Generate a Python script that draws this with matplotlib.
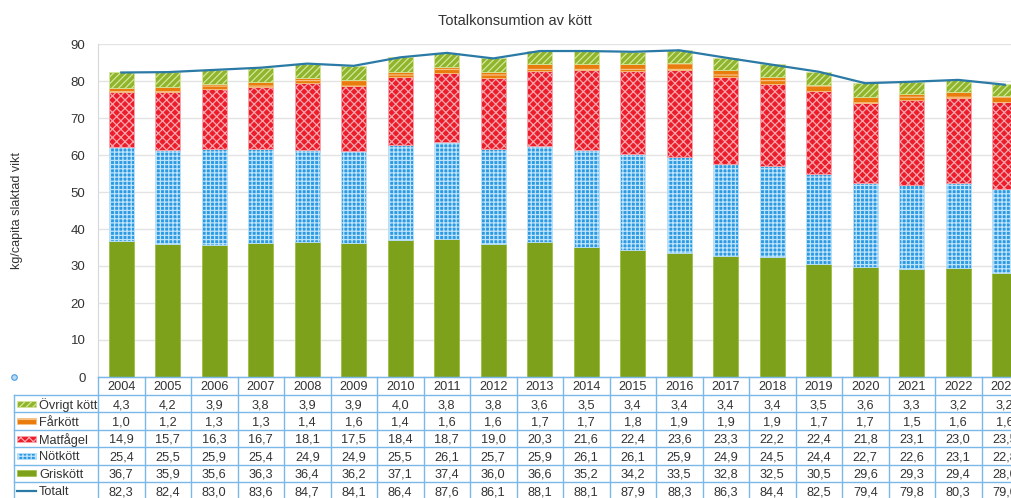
import matplotlib
matplotlib.use("Agg")
import matplotlib.pyplot as plt
from matplotlib.patches import Rectangle
from matplotlib.lines import Line2D
import matplotlib.transforms as mtransforms

years = ["2004", "2005", "2006", "2007", "2008", "2009", "2010", "2011", "2012", "2013",
         "2014", "2015", "2016", "2017", "2018", "2019", "2020", "2021", "2022", "2023"]
ovrigt = [4.3, 4.2, 3.9, 3.8, 3.9, 3.9, 4.0, 3.8, 3.8, 3.6, 3.5, 3.4, 3.4, 3.4, 3.4, 3.5, 3.6, 3.3, 3.2, 3.2]
farkott = [1.0, 1.2, 1.3, 1.3, 1.4, 1.6, 1.4, 1.6, 1.6, 1.7, 1.7, 1.8, 1.9, 1.9, 1.9, 1.7, 1.7, 1.5, 1.6, 1.6]
matfagel = [14.9, 15.7, 16.3, 16.7, 18.1, 17.5, 18.4, 18.7, 19.0, 20.3, 21.6, 22.4, 23.6, 23.3, 22.2, 22.4, 21.8, 23.1, 23.0, 23.5]
notkott = [25.4, 25.5, 25.9, 25.4, 24.9, 24.9, 25.5, 26.1, 25.7, 25.9, 26.1, 26.1, 25.9, 24.9, 24.5, 24.4, 22.7, 22.6, 23.1, 22.8]
griskott = [36.7, 35.9, 35.6, 36.3, 36.4, 36.2, 37.1, 37.4, 36.0, 36.6, 35.2, 34.2, 33.5, 32.8, 32.5, 30.5, 29.6, 29.3, 29.4, 28.0]
totalt = [82.3, 82.4, 83.0, 83.6, 84.7, 84.1, 86.4, 87.6, 86.1, 88.1, 88.1, 87.9, 88.3, 86.3, 84.4, 82.5, 79.4, 79.8, 80.3, 79.0]

title = "Totalkonsumtion av kött"
ylabel = "kg/capita slaktad vikt"

W, H = 1011, 498
plt.rcParams["font.family"] = ["Liberation Sans", "DejaVu Sans"]
plt.rcParams["hatch.linewidth"] = 0.9

fig = plt.figure(figsize=(W / 100, H / 100), dpi=100)
ax = fig.add_axes([98 / W, 1 - 377 / H, 930 / W, (377 - 44) / H])

x = list(range(len(years)))
bw = 0.54
FS = 9.2

# (name, values, base colour, hatch colour, hatch)
series = [
    ("Griskött", griskott, "#7da11b", "#9cbf3f", None),
    ("Nötkött", notkott, "#2b9ae3", "#bfe3fa", "++++"),
    ("Matfågel", matfagel, "#ec1c2a", "#f8a6ae", "xxxx"),
    ("Fårkött", farkott, "#e97c0c", "#f6c184", "---"),
    ("Övrigt kött", ovrigt, "#8fb52c", "#d5e69a", "/////"),
]

bottom = [0.0] * len(years)
for name, vals, col, hcol, hatch in series:
    ax.bar(x, vals, bw, bottom=bottom, color=col, edgecolor=hcol, linewidth=0.6,
           hatch=hatch, zorder=2)
    bottom = [b + v for b, v in zip(bottom, vals)]

ax.plot(x, totalt, color="#2b7aa6", linewidth=1.6, zorder=3)

ax.set_xlim(-0.5, len(years) - 0.5)
ax.set_ylim(0, 90)
ax.set_yticks(range(0, 91, 10))
ax.set_xticks([])
ax.tick_params(axis="y", length=0, pad=9, labelsize=FS + 0.3, labelcolor="#333333")
ax.grid(axis="y", color="#e3e3e3", linewidth=1, zorder=0)
ax.set_axisbelow(True)
for s in ["top", "right"]:
    ax.spines[s].set_visible(False)
ax.spines["left"].set_color("#d8d8d8")
ax.spines["bottom"].set_color("#7ab8ea")

fig.text(515 / W, 1 - 21 / H, title, ha="center", va="center", fontsize=10.5, color="#333333")
fig.text(17 / W, 1 - 210 / H, ylabel, ha="center", va="center", rotation=90,
         fontsize=9, color="#333333")

# ---- data table ----
tblue = "#7ab8ea"
def fy(py):
    return 1 - py / H

blend = mtransforms.blended_transform_factory(ax.transData, fig.transFigure)

header_top = 377
row_h = 17.4
header_bot = 395
row_tops = [header_bot + i * row_h for i in range(7)]

for i in range(len(years) + 1):
    fig.add_artist(Line2D([i - 0.5, i - 0.5], [fy(header_top), fy(505)], transform=blend,
                          color=tblue, linewidth=1))
fig.add_artist(Line2D([14 / W, 14 / W], [fy(header_bot), fy(505)], color=tblue, linewidth=1))
fig.add_artist(Line2D([-0.5, len(years) - 0.5], [fy(header_top), fy(header_top)], transform=blend,
                      color=tblue, linewidth=1))
for t in row_tops:
    fig.add_artist(Line2D([14 / W, 1.05], [fy(t), fy(t)], color=tblue, linewidth=1))

for i, yr in enumerate(years):
    fig.text(i, fy((header_top + header_bot) / 2), yr, transform=blend, ha="center",
             va="center_baseline", fontsize=FS, color="#333333")

rows = [
    ("Övrigt kött", ovrigt, "#8fb52c", "#d5e69a", "/////"),
    ("Fårkött", farkott, "#e97c0c", "#f6c184", "---"),
    ("Matfågel", matfagel, "#ec1c2a", "#f8a6ae", "xxxx"),
    ("Nötkött", notkott, "#2b9ae3", "#bfe3fa", "++++"),
    ("Griskött", griskott, "#7da11b", "#9cbf3f", None),
]
for r, (name, vals, col, hcol, hatch) in enumerate(rows):
    yc = row_tops[r] + row_h / 2
    fig.add_artist(Rectangle((17 / W, fy(yc + 3)), 19 / W, 6 / H, transform=fig.transFigure,
                             facecolor=col, edgecolor=hcol, linewidth=0.5, hatch=hatch))
    fig.text(39 / W, fy(yc), name, ha="left", va="center_baseline", fontsize=FS, color="#333333")
    for i, v in enumerate(vals):
        fig.text(i, fy(yc), f"{v:.1f}".replace(".", ","), transform=blend, ha="center",
                 va="center_baseline", fontsize=FS, color="#333333")

yc = row_tops[5] + row_h / 2
fig.add_artist(Line2D([17 / W, 36 / W], [fy(yc), fy(yc)], color="#2b7aa6", linewidth=1.6))
fig.text(39 / W, fy(yc), "Totalt", ha="left", va="center_baseline", fontsize=FS, color="#333333")
for i, v in enumerate(totalt):
    fig.text(i, fy(yc), f"{v:.1f}".replace(".", ","), transform=blend, ha="center",
             va="center_baseline", fontsize=FS, color="#333333")

fig.add_artist(Line2D([14 / W], [fy(377)], marker="o", markersize=4, markerfacecolor="#b8daf5",
                      markeredgecolor="#4a9de0", markeredgewidth=0.8, linestyle="none"))

fig.savefig("out.png", dpi=100)
